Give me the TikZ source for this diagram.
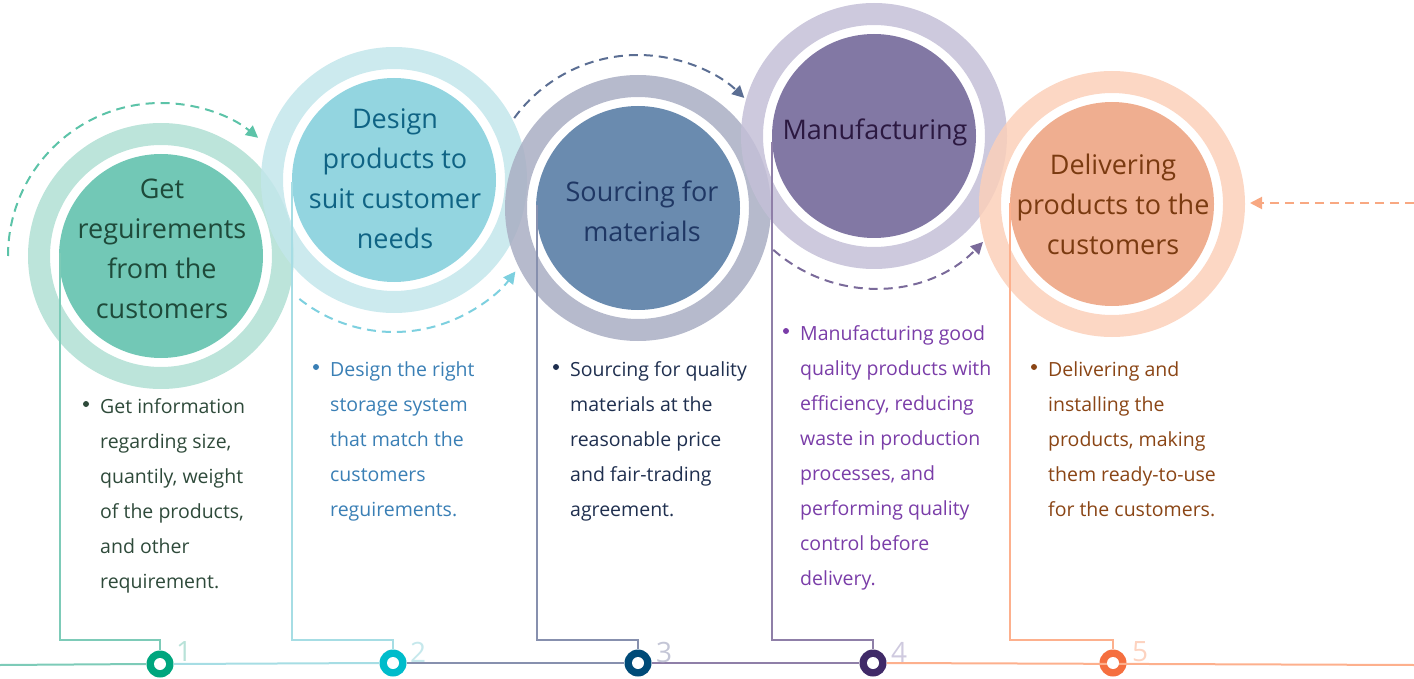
\documentclass[tikz,border=0pt]{standalone}
\usepackage{fontspec}
\setmainfont{Open Sans}
\usetikzlibrary{arrows.meta}
\definecolor{ringA}{HTML}{B0DFD3}\definecolor{fillA}{HTML}{72C8B6}\definecolor{txtA}{HTML}{1E4A3A}
\definecolor{ringB}{HTML}{C3E6EB}\definecolor{fillB}{HTML}{93D5E0}\definecolor{txtB}{HTML}{0F6384}
\definecolor{ringC}{HTML}{A9AEC3}\definecolor{fillC}{HTML}{6A8BAF}\definecolor{txtC}{HTML}{1F3764}
\definecolor{ringD}{HTML}{C4BFD7}\definecolor{fillD}{HTML}{8278A4}\definecolor{txtD}{HTML}{2B1840}
\definecolor{ringE}{HTML}{FBD0BA}\definecolor{fillE}{HTML}{EFAE90}\definecolor{txtE}{HTML}{7A3A10}
\definecolor{lnA}{HTML}{7DCBB8}\definecolor{lnB}{HTML}{A6DDE4}\definecolor{lnC}{HTML}{8790AE}
\definecolor{lnD}{HTML}{8F7FA8}\definecolor{lnE}{HTML}{FDB08D}
\definecolor{dotA}{HTML}{00A67E}\definecolor{dotB}{HTML}{00BCCB}\definecolor{dotC}{HTML}{004B78}
\definecolor{dotD}{HTML}{402A68}\definecolor{dotE}{HTML}{F56F3F}
\definecolor{numA}{HTML}{B8E2D8}\definecolor{numB}{HTML}{C6E8EC}\definecolor{numC}{HTML}{C4C6D6}
\definecolor{numD}{HTML}{CFCADF}\definecolor{numE}{HTML}{FDD3C0}
\definecolor{arA}{HTML}{5CC3A8}\definecolor{arB}{HTML}{7DD0DF}\definecolor{arC}{HTML}{5B6E93}
\definecolor{arD}{HTML}{7A6A9A}\definecolor{arE}{HTML}{F8A882}
\definecolor{bulA}{HTML}{2E4A3A}\definecolor{bulB}{HTML}{3A7FB5}\definecolor{bulC}{HTML}{1F2F4F}
\definecolor{bulD}{HTML}{7A3DA8}\definecolor{bulE}{HTML}{8A4515}
\begin{document}
\begin{tikzpicture}[x=1pt,y=-1pt,
  title/.style={align=center,inner sep=0pt,font=\fontsize{27}{40}\selectfont},
  body/.style={align=left,anchor=north west,inner sep=0pt,font=\fontsize{19.5}{35}\selectfont},
  bul/.style={circle,inner sep=0pt,minimum size=6pt},
  conn/.style={line width=2pt},
  dashar/.style={line width=2pt,dash pattern=on 9pt off 6pt,-{Triangle[length=12pt,width=12pt]}},
  num/.style={anchor=west,inner sep=0pt,font=\fontsize{28}{28}\selectfont},
  ringc/.style={fill opacity=0.85,even odd rule}]
\useasboundingbox (0,0) rectangle (1414,679);
% centres
\coordinate (c1) at (161,256);
\coordinate (c2) at (394,180);
\coordinate (c3) at (638,208);
\coordinate (c4) at (874,136);
\coordinate (c5) at (1112,204);
% rings
\fill[ringA,ringc] (c1) circle (133pt) (c1) circle (111pt);
\fill[fillA] (c1) circle (102pt);
\fill[ringB,ringc] (c2) circle (133pt) (c2) circle (111pt);
\fill[fillB] (c2) circle (102pt);
\fill[ringC,ringc] (c3) circle (133pt) (c3) circle (111pt);
\fill[fillC] (c3) circle (102pt);
\fill[ringD,ringc] (c4) circle (133pt) (c4) circle (111pt);
\fill[fillD] (c4) circle (102pt);
\fill[ringE,ringc] (c5) circle (133pt) (c5) circle (111pt);
\fill[fillE] (c5) circle (102pt);
% titles
\node[title,text=txtA] (t1) at (162,249) {Get\\reguirements\\from the\\customers};
\node[title,text=txtB] (t2) at (395,179) {Design\\products to\\suit customer\\needs};
\node[title,text=txtC] (t3) at (642,211) {Sourcing for\\materials};
\node[title,text=txtD] (t4) at (875,132) {Manufacturing};
\node[title,text=txtE] (t5) at (1113,204) {Delivering\\products to the\\customers};
% bottom line
\coordinate (l0) at (0,665);
\coordinate (l6) at (1414,665);
\node[circle,fill=dotA,inner sep=0pt,minimum size=27pt] (d1) at (160,664) {};
\node[circle,fill=dotB,inner sep=0pt,minimum size=27pt] (d2) at (393,663) {};
\node[circle,fill=dotC,inner sep=0pt,minimum size=27pt] (d3) at (638,663) {};
\node[circle,fill=dotD,inner sep=0pt,minimum size=27pt] (d4) at (873,663) {};
\node[circle,fill=dotE,inner sep=0pt,minimum size=27pt] (d5) at (1113,663) {};
\draw[conn,lnA] (l0) -- (d1.west);
\draw[conn,lnB] (d1.east) -- (d2.west);
\draw[conn,lnC] (d2.east) -- (d3.west);
\draw[conn,lnD] (d3.east) -- (d4.west);
\draw[conn,lnE] (d4.east) -- (l6);
\foreach \i in {1,...,5} \fill[white] (d\i) circle (6pt);
% numbers
\node[num,text=numA] (n1) at (176,652) {1};
\node[num,text=numB] (n2) at (410,652) {2};
\node[num,text=numC] (n3) at (656,652) {3};
\node[num,text=numD] (n4) at (891,652) {4};
\node[num,text=numE] (n5) at (1132,652) {5};
% vertical connectors
\coordinate (s1) at (60,253);
\coordinate (s2) at (292,182);
\coordinate (s3) at (537,205);
\coordinate (s4) at (772,142);
\coordinate (s5) at (1010,203);
\draw[conn,lnA] (s1) |- (160,640) -- (d1.north);
\draw[conn,lnB] (s2) |- (393,640) -- (d2.north);
\draw[conn,lnC] (s3) |- (638,640) -- (d3.north);
\draw[conn,lnD] (s4) |- (873,640) -- (d4.north);
\draw[conn,lnE] (s5) |- (1113,640) -- (d5.north);
% dashed arrows
\draw[dashar,arA] (c1) ++(180:153pt) arc[start angle=180,end angle=50.6,radius=153pt];
\draw[dashar,arB] (c2) ++(-128.5:152pt) arc[start angle=-128.5,end angle=-37,radius=152pt];
\draw[dashar,arC] (c3) ++(144:153pt) arc[start angle=144,end angle=46,radius=153pt];
\draw[dashar,arD] (c4) ++(228.5:152pt) arc[start angle=228.5,end angle=315.8,radius=152pt];
\coordinate (e0) at (1414,203);
\coordinate (e1) at (1250,203);
\draw[dashar,arE] (e0) -- (e1);
% bullet texts
\node[bul,fill=bulA] (b1) at (86,404) {};
\node[body,text=bulA] (x1) at (100,398) {Get information\\regarding size,\\quantily, weight\\of the products,\\and other\\requirement.};
\node[bul,fill=bulB] (b2) at (316,367) {};
\node[body,text=bulB] (x2) at (330,361) {Design the right\\storage system\\that match the\\customers\\reguirements.};
\node[bul,fill=bulC] (b3) at (556,367) {};
\node[body,text=bulC] (x3) at (570,361) {Sourcing for quality\\materials at the\\reasonable price\\and fair-trading\\agreement.};
\node[bul,fill=bulD] (b4) at (786,331) {};
\node[body,text=bulD] (x4) at (800,325) {Manufacturing good\\quality products with\\efficiency, reducing\\waste in production\\processes, and\\performing quality\\control before\\delivery.};
\node[bul,fill=bulE] (b5) at (1034,367) {};
\node[body,text=bulE] (x5) at (1048,361) {Delivering and\\installing the\\products, making\\them ready-to-use\\for the customers.};
\end{tikzpicture}
\end{document}
